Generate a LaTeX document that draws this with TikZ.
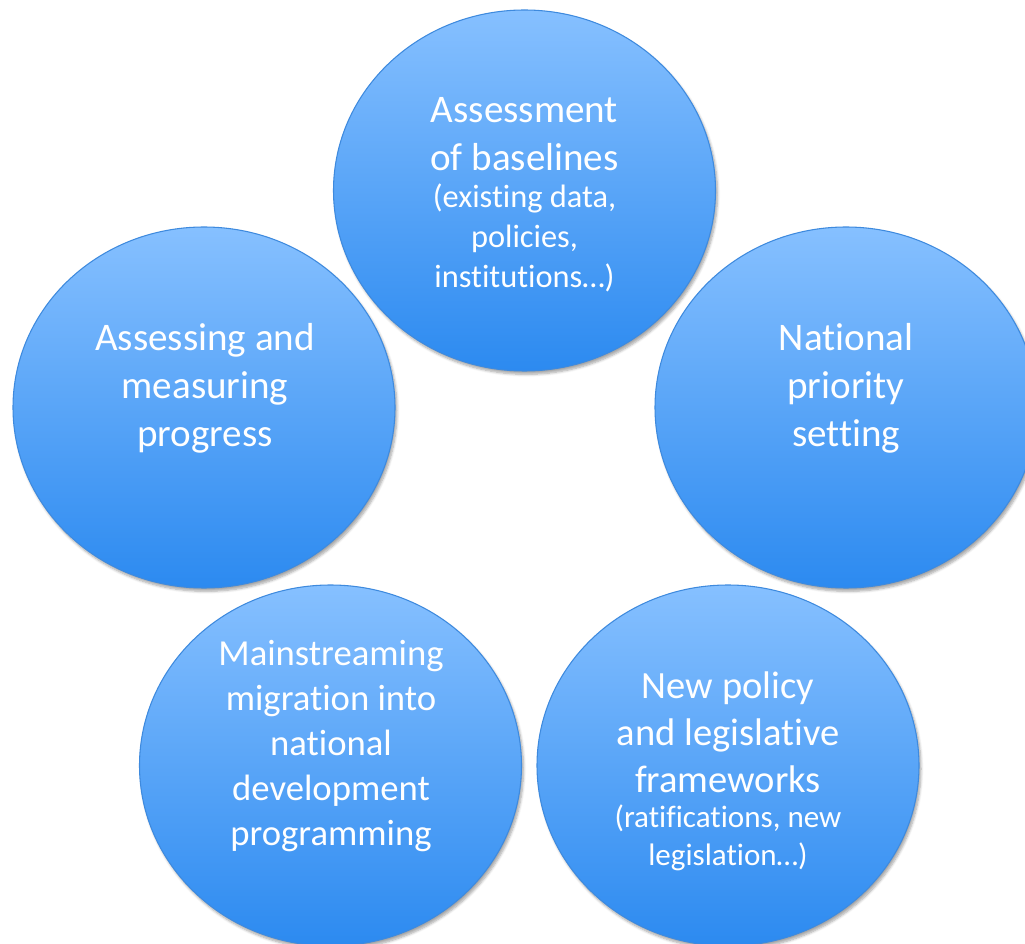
\documentclass[tikz,border=0pt]{standalone}
\usepackage{fontspec}
\setmainfont{Carlito}[Ligatures=NoCommon]
\usetikzlibrary{shadows,shadows.blur,shapes.geometric}
\definecolor{ctop}{RGB}{134,192,255}
\definecolor{cbot}{RGB}{44,138,240}
\definecolor{cedge}{RGB}{62,138,222}
\tikzset{
  bubble/.style={ellipse,draw=cedge,line width=0.8pt,top color=ctop,bottom color=cbot,
    minimum width=382*0.75pt,minimum height=361*0.75pt,inner sep=0pt,
    blur shadow={shadow xshift=1.5pt,shadow yshift=-2.5pt,shadow blur steps=6,shadow opacity=35}},
  lbl/.style={text=white,align=center,inner sep=0pt,anchor=base},
  bigf/.style={font=\fontsize{29.3pt}{36pt}\selectfont},
  smallf/.style={font=\fontsize{24.3pt}{30pt}\selectfont},
}
\begin{document}
\begin{tikzpicture}[x=0.75pt,y=-0.75pt]
\useasboundingbox (0,0) rectangle (1025,944);
\node[bubble] (c1) at (524.5,190.5) {};
\node[bubble] (c2) at (204,407.5) {};
\node[bubble] (c3) at (846,407.5) {};
\node[bubble] (c4) at (330.5,765.5) {};
\node[bubble] (c5) at (728,765.5) {};
% texts (anchored at the baseline of the last line)
\node[lbl,bigf] (t1a) at (524.5,171) {Assessment\\of baselines};
\node[lbl,smallf] (t1b) at (524.5,288) {(existing data,\\policies,\\institutions…)};
\node[lbl,bigf] (t2) at (205,447) {Assessing and\\measuring\\progress};
\node[lbl,bigf] (t3) at (846,447) {National\\priority\\setting};
\node[lbl,font=\fontsize{27.5pt}{33.75pt}\selectfont] (t4) at (331,845) {Mainstreaming\\migration into\\national\\development\\programming};
\node[lbl,font=\fontsize{28.9pt}{35.25pt}\selectfont] (t5a) at (728,792) {New policy\\and legislative\\frameworks};
\node[lbl,font=\fontsize{23.3pt}{28.5pt}\selectfont] (t5b) at (728,865) {(ratifications, new\\legislation…)};
\end{tikzpicture}
\end{document}
